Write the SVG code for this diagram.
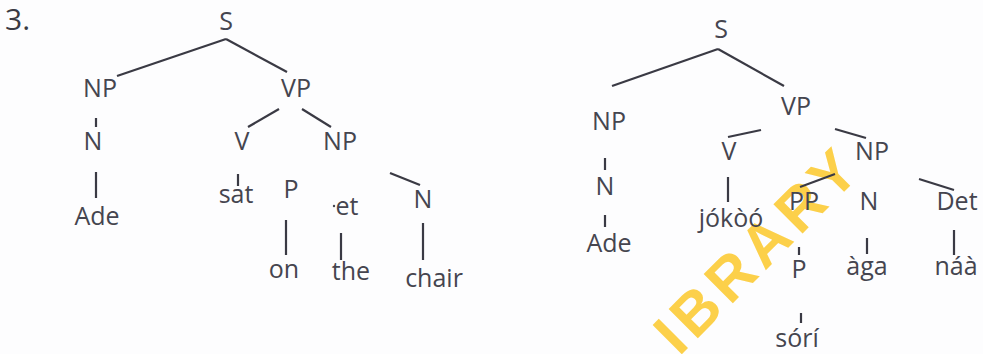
<svg xmlns="http://www.w3.org/2000/svg" width="983" height="354" viewBox="0 0 983 354">
<style>
.t{font-family:"Open Sans","Noto Sans","Liberation Sans",sans-serif;font-size:25px;fill:#45454f;text-anchor:middle}
.num{font-family:"Open Sans","Noto Sans","Liberation Sans",sans-serif;font-size:30px;fill:#3a3a43}
.c line{stroke:#3a3a44;stroke-width:2.2;stroke-linecap:butt}
.wm{font-family:"Liberation Sans",Arial,sans-serif;font-weight:bold;font-size:60px;fill:#fcd04a;letter-spacing:6px}
</style>
<rect width="983" height="354" fill="#fdfdfe"/>
<g id="watermark"><text class="wm" transform="translate(679,357) rotate(-45)">IBRARY</text></g>
<text class="num" x="5" y="30">3.</text>
<g id="connectors" class="c">
<line x1="226" y1="39" x2="117" y2="76"/>
<line x1="226" y1="39" x2="287" y2="72"/>
<line x1="96" y1="118" x2="96" y2="127"/>
<line x1="96" y1="172" x2="96" y2="198"/>
<line x1="279" y1="109" x2="248" y2="127"/>
<line x1="302" y1="109" x2="331" y2="127"/>
<line x1="238" y1="174" x2="238" y2="186"/>
<line x1="390" y1="173" x2="420" y2="185"/>
<line x1="286" y1="220" x2="286" y2="255"/>
<line x1="341" y1="233" x2="341" y2="260"/>
<line x1="423" y1="223" x2="423" y2="260"/>
<line x1="718" y1="49" x2="612" y2="86"/>
<line x1="718" y1="49" x2="784" y2="86"/>
<line x1="761" y1="130" x2="728" y2="137"/>
<line x1="835" y1="129" x2="866" y2="138"/>
<line x1="605" y1="158" x2="605" y2="170"/>
<line x1="605" y1="215" x2="605" y2="227"/>
<line x1="728" y1="177" x2="728" y2="202"/>
<line x1="835" y1="174" x2="800" y2="187"/>
<line x1="919" y1="179" x2="954" y2="190"/>
<line x1="799" y1="247" x2="799" y2="255"/>
<line x1="867" y1="238" x2="867" y2="254"/>
<line x1="954" y1="230" x2="954" y2="255"/>
<line x1="801" y1="313" x2="801" y2="323"/>
</g>
<g id="L-S"><text class="t" x="226" y="30">S</text></g>
<g id="L-NP"><text class="t" x="100" y="97">NP</text></g>
<g id="L-VP"><text class="t" x="296" y="97">VP</text></g>
<g id="L-N"><text class="t" x="93" y="150">N</text></g>
<g id="L-Ade"><text class="t" x="97" y="225">Ade</text></g>
<g id="L-V"><text class="t" x="242" y="150">V</text></g>
<g id="L-NP2"><text class="t" x="340" y="150">NP</text></g>
<g id="L-sat"><text class="t" x="236" y="203">sat</text></g>
<g id="L-P"><text class="t" x="291" y="198">P</text></g>
<g id="L-Det"><circle cx="334" cy="206" r="1.2" fill="#45454f"/><text class="t" x="347" y="215">et</text></g>
<g id="L-N2"><text class="t" x="423" y="208">N</text></g>
<g id="L-on"><text class="t" x="284" y="278">on</text></g>
<g id="L-the"><text class="t" x="351" y="280">the</text></g>
<g id="L-chair"><text class="t" x="434" y="287">chair</text></g>
<g id="R-S"><text class="t" x="721" y="38">S</text></g>
<g id="R-NP"><text class="t" x="609" y="130">NP</text></g>
<g id="R-VP"><text class="t" x="796" y="115">VP</text></g>
<g id="R-V"><text class="t" x="729" y="160">V</text></g>
<g id="R-NP2"><text class="t" x="872" y="160">NP</text></g>
<g id="R-N"><text class="t" x="605" y="195">N</text></g>
<g id="R-Ade"><text class="t" x="609" y="252">Ade</text></g>
<g id="R-jokoo"><text class="t" x="731" y="227">jókòó</text></g>
<g id="R-PP"><text class="t" x="804" y="210">PP</text></g>
<g id="R-N2"><text class="t" x="869" y="210">N</text></g>
<g id="R-Det"><text class="t" x="957" y="210">Det</text></g>
<g id="R-P"><text class="t" x="799" y="278">P</text></g>
<g id="R-aga"><text class="t" x="867" y="275">àga</text></g>
<g id="R-naa"><text class="t" x="956" y="275">náà</text></g>
<g id="R-sori"><text class="t" x="797" y="347">sórí</text></g>
</svg>
